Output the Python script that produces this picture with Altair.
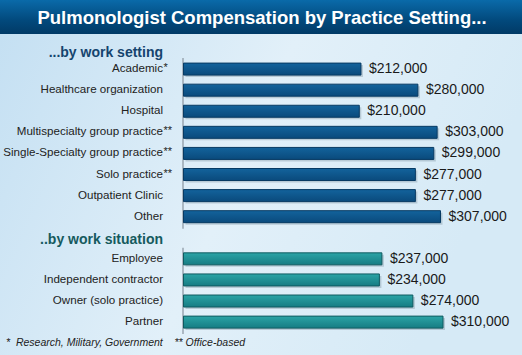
import altair as alt
import pandas as pd

TITLE = "Pulmonologist Compensation by Practice Setting..."
HEAD1 = "...by work setting"
HEAD2 = "..by work situation"
FOOT = "*\u00a0 Research, Military, Government\u00a0\u00a0\u00a0 ** Office-based"

setting_labels = ["Academic", "Healthcare organization", "Hospital",
                  "Multispecialty group practice", "Single-Specialty group practice",
                  "Solo practice", "Outpatient Clinic", "Other"]
setting_marks = ["*", "", "", "**", "**", "**", "", ""]
setting_values = [212000, 280000, 210000, 303000, 299000, 277000, 277000, 307000]

situation_labels = ["Employee", "Independent contractor", "Owner (solo practice)", "Partner"]
situation_marks = ["", "", "", ""]
situation_values = [237000, 234000, 274000, 310000]

rows = []
for l, m, v in zip(setting_labels, setting_marks, setting_values):
    rows.append({"cat": l, "label": l, "mark": m, "value": v, "group": "setting"})
for l, m, v in zip(situation_labels, situation_marks, situation_values):
    rows.append({"cat": l, "label": l, "mark": m, "value": v, "group": "situation"})
df = pd.DataFrame(rows)

order = [HEAD1] + setting_labels + [HEAD2] + situation_labels + [FOOT]

FONT = "Liberation Sans, Arial, Helvetica, sans-serif"

W, H = 522, 355
yscale = alt.Scale(type="point", domain=order, range=[48, 343.2], padding=0)
xscale = alt.Scale(domain=[0, 310000], range=[183.5, 443], nice=False, zero=True)

one = pd.DataFrame({"k": [0]})

bg = alt.Chart(one).mark_rect(
    fill=alt.Gradient(gradient="linear", x1=0, y1=0, x2=1, y2=0.3,
                      stops=[alt.GradientStop(color="#c3dff2", offset=0),
                             alt.GradientStop(color="#e2f0f9", offset=0.55),
                             alt.GradientStop(color="#d6eaf6", offset=1)])
).encode(x=alt.value(0), x2=alt.value(W), y=alt.value(0), y2=alt.value(H))

banner = alt.Chart(one).mark_rect(
    fill=alt.Gradient(gradient="linear", x1=0, y1=0, x2=0, y2=1,
                      stops=[alt.GradientStop(color="#0a6aa9", offset=0),
                             alt.GradientStop(color="#02497c", offset=0.6),
                             alt.GradientStop(color="#013a66", offset=1)])
).encode(x=alt.value(0), x2=alt.value(W), y=alt.value(0), y2=alt.value(34))

title = alt.Chart(one).mark_text(
    font=FONT, fontSize=18.5, fontWeight="bold", color="white", align="center", baseline="middle"
).encode(x=alt.value(262), y=alt.value(17.5), text=alt.value(TITLE))

rules_df = pd.DataFrame({"start": [setting_labels[0], situation_labels[0]],
                         "end": [setting_labels[-1], situation_labels[-1]]})
rules = alt.Chart(rules_df).mark_rule(color="#9aa6b0", strokeWidth=1.5, yOffset=-11, y2Offset=12).encode(
    x=alt.value(183), y=alt.Y("start:N", scale=yscale, axis=None), y2="end:N")

def bars(group, top, bottom, stroke):
    return alt.Chart(df).transform_filter(alt.datum.group == group).mark_bar(
        height=12,
        fill=alt.Gradient(gradient="linear", x1=0, y1=0, x2=0, y2=1,
                          stops=[alt.GradientStop(color=top, offset=0),
                                 alt.GradientStop(color=bottom, offset=1)]),
        stroke=stroke, strokeWidth=1
    ).encode(x=alt.X("value:Q", scale=xscale, axis=None),
             y=alt.Y("cat:N", scale=yscale, axis=None))

shadow = alt.Chart(df).mark_bar(height=12, color="#6f8796", opacity=0.35, xOffset=2, yOffset=2).encode(
    x=alt.X("value:Q", scale=xscale, axis=None), y=alt.Y("cat:N", scale=yscale, axis=None))

bars1 = bars("setting", "#13639c", "#0a4a7c", "#073a63")
bars2 = bars("situation", "#2ba4a6", "#167c83", "#0f5a60")

vals = alt.Chart(df).mark_text(font=FONT, fontSize=14, color="#1a1a1a", align="left",
                               baseline="middle", dx=8).encode(
    x=alt.X("value:Q", scale=xscale, axis=None), y=alt.Y("cat:N", scale=yscale, axis=None),
    text=alt.Text("value:Q", format="$,.0f"))

labels = alt.Chart(df).mark_text(font=FONT, fontSize=11.6, color="#222222", align="right",
                                 baseline="middle").encode(
    x=alt.value(163), y=alt.Y("cat:N", scale=yscale, axis=None), text="label:N")

marks = alt.Chart(df).mark_text(font=FONT, fontSize=11, color="#222222", align="left",
                                baseline="middle", dy=-1).encode(
    x=alt.value(163.5), y=alt.Y("cat:N", scale=yscale, axis=None), text="mark:N")

heads_df = pd.DataFrame({"cat": [HEAD1, HEAD2]})
head1 = alt.Chart(heads_df.iloc[[0]]).mark_text(font=FONT, fontSize=14, fontWeight="bold", color="#15446e",
                                              align="right", baseline="middle", dy=5).encode(
    x=alt.value(163), y=alt.Y("cat:N", scale=yscale, axis=None), text="cat:N")
head2 = alt.Chart(heads_df.iloc[[1]]).mark_text(font=FONT, fontSize=14, fontWeight="bold", color="#155a5e",
                                              align="right", baseline="middle", dy=2).encode(
    x=alt.value(163), y=alt.Y("cat:N", scale=yscale, axis=None), text="cat:N")

foot_df = pd.DataFrame({"cat": [FOOT]})
foot = alt.Chart(foot_df).mark_text(font=FONT, fontSize=10.5, fontStyle="italic", color="#222222",
                                    align="left", baseline="middle").encode(
    x=alt.value(6), y=alt.Y("cat:N", scale=yscale, axis=None), text="cat:N")

chart = alt.layer(bg, banner, title, rules, shadow, bars1, bars2, vals, labels, marks, head1, head2, foot).properties(
    width=W, height=H, autosize=alt.AutoSizeParams(type="none"), padding=0
).configure_view(stroke=None).configure(background="#d6eaf6")

chart.save("out.html", embed_options={"renderer": "svg", "actions": False})
